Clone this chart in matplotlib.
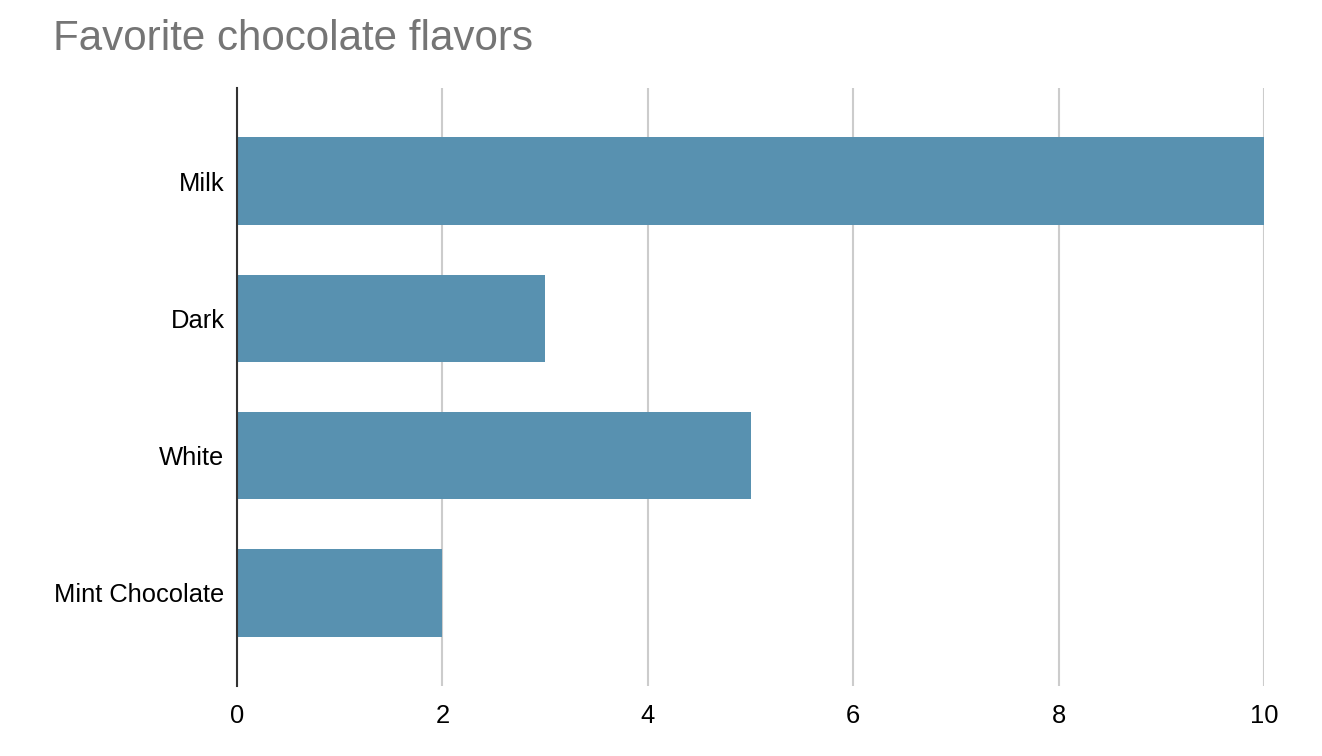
import matplotlib.pyplot as plt

# Data
flavors = ["Milk", "Dark", "White", "Mint Chocolate"]
votes = [10, 3, 5, 2]
x_ticks = [0, 2, 4, 6, 8, 10]

plt.rcParams["font.family"] = ["Liberation Sans", "DejaVu Sans"]

W, H = 1322, 756
fig = plt.figure(figsize=(W / 100, H / 100), dpi=100)
ax = fig.add_axes([237 / W, 1 - 686 / H, (1264 - 237) / W, (686 - 88) / H])

pos = list(range(len(flavors)))
ax.barh(pos, votes, height=0.64, color="#5891b0", zorder=3)

ax.set_xlim(0, 10)
ax.set_ylim(len(flavors) - 1 + 0.68, -0.68)
ax.set_xticks(x_ticks)
ax.set_xticklabels([str(t) for t in x_ticks])
ax.set_yticks(pos)
ax.set_yticklabels(flavors)

ax.grid(axis="x", color="#cccccc", linewidth=1.5, zorder=0)
ax.tick_params(axis="both", length=0, labelsize=18.4, colors="#000000")
ax.tick_params(axis="y", pad=9)
ax.tick_params(axis="x", pad=13)

for side in ["top", "right", "bottom"]:
    ax.spines[side].set_visible(False)
ax.spines["left"].set_color("#333333")
ax.spines["left"].set_linewidth(1.5)
ax.spines["left"].set_zorder(4)

fig.text(53 / W, 1 - 39 / H, "Favorite chocolate flavors", fontsize=30.3,
         color="#757575", va="center", ha="left")

fig.savefig("out.png", dpi=100)
